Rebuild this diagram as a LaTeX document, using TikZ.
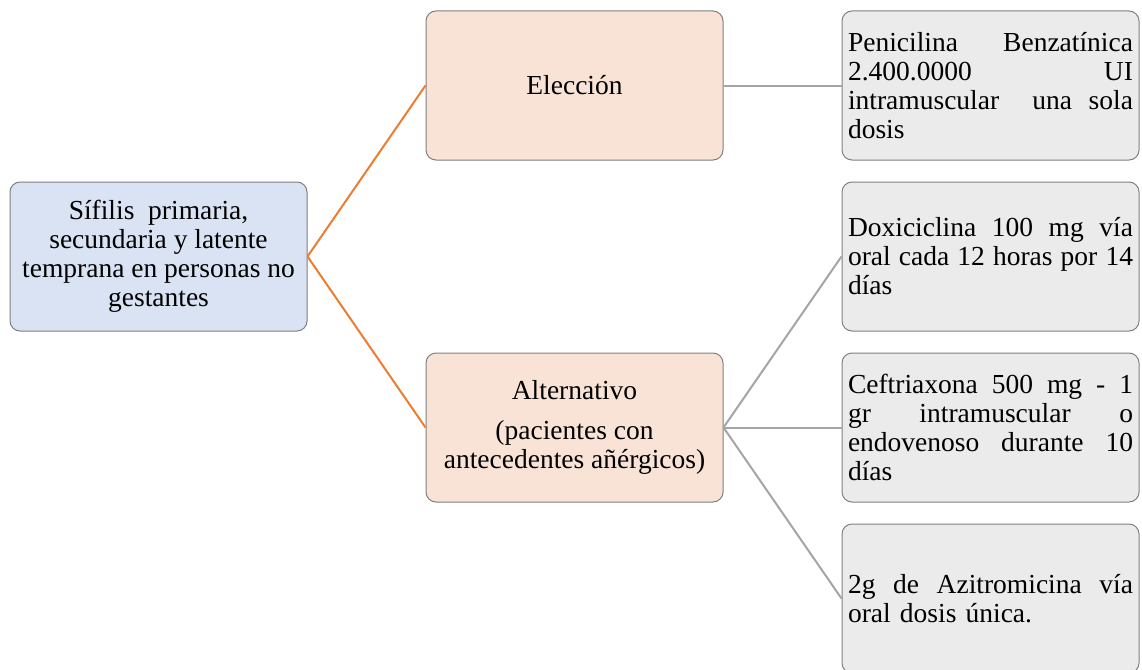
\documentclass[tikz,border=0pt]{standalone}
\usepackage{fontspec}
\setmainfont{Liberation Serif}
\definecolor{bluefill}{HTML}{DAE3F3}
\definecolor{peachfill}{HTML}{F9E3D6}
\definecolor{greyfill}{HTML}{EBEBEB}
\definecolor{boxline}{HTML}{808080}
\definecolor{orangeline}{HTML}{ED7D31}
\definecolor{greyline}{HTML}{A5A5A5}
% one fully justified line of fixed width; words are separated by \hfill
\newcommand{\jline}[1]{\leavevmode\hbox to 285pt{#1}}
\begin{document}
\begin{tikzpicture}[x=1pt,y=-1pt,
  box/.style={rectangle, rounded corners=10pt, draw=boxline, line width=1pt,
    minimum width=297pt, minimum height=149pt, inner sep=0pt,
    font=\fontsize{27.5}{29}\selectfont},
  rootbox/.style={box, fill=bluefill, align=center},
  midbox/.style={box, fill=peachfill, align=center},
  leafbox/.style={box, fill=greyfill, text width=285pt, align=left},
  orangelink/.style={draw=orangeline, line width=2pt},
  greylink/.style={draw=greyline, line width=2pt}]
\useasboundingbox (0,0) rectangle (1142,669);
\fill[white] (0,0) rectangle (1142,669);

\node[rootbox] (src) at (158.5,256.5)
  {Sífilis~ primaria,\\ secundaria y latente\\ temprana en personas no\\ gestantes};

\node[midbox] (elec) at (574.5,85.5) {Elección};
\node[midbox] (alt) at (574.5,427.5)
  {Alternativo\\[11pt] (pacientes con\\ antecedentes añérgicos)};

\node[leafbox] (r1) at (990.5,85.5)
  {\jline{Penicilina\hfill Benzatínica}\\
   \jline{2.400.0000\hfill UI}\\
   \jline{intramuscular\hfill\hfill una\hfill sola}\\
   dosis};
\node[leafbox] (r2) at (990.5,256.5)
  {\jline{Doxiciclina\hfill 100\hfill mg\hfill vía}\\
   \jline{oral\hfill cada\hfill 12\hfill horas\hfill por\hfill 14}\\
   días};
\node[leafbox] (r3) at (990.5,427.5)
  {\jline{Ceftriaxona\hfill 500\hfill mg\hfill -\hfill 1}\\
   \jline{gr\hfill intramuscular\hfill o}\\
   \jline{endovenoso\hfill durante\hfill 10}\\
   días};
\node[leafbox] (r4) at (990.5,598.5)
  {\jline{2g\hfill de\hfill Azitromicina\hfill vía}\\
   oral dosis única.};

\draw[orangelink] (src.east) -- (elec.west);
\draw[orangelink] (src.east) -- (alt.west);
\draw[greylink] (elec.east) -- (r1.west);
\draw[greylink] (alt.east) -- (r2.west);
\draw[greylink] (alt.east) -- (r3.west);
\draw[greylink] (alt.east) -- (r4.west);
\end{tikzpicture}
\end{document}
